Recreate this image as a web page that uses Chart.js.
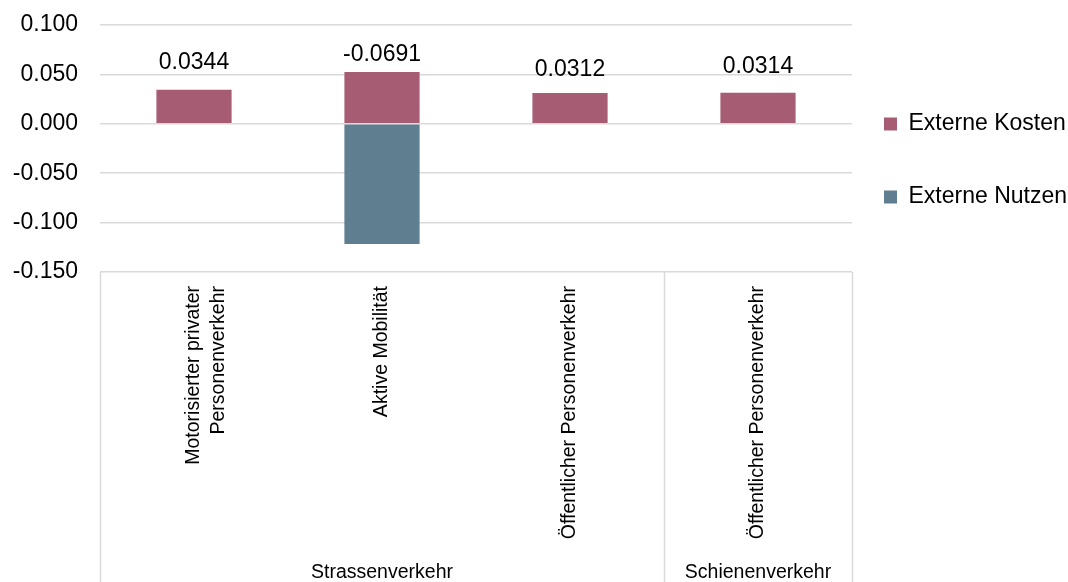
<!DOCTYPE html>
<html>
<head>
<meta charset="utf-8">
<script src="https://cdn.jsdelivr.net/npm/chart.js@4.4.1/dist/chart.umd.min.js"></script>
<style>
  html, body { margin: 0; padding: 0; background: #fff; }
</style>
</head>
<body>
<canvas id="chart" width="1068" height="582"></canvas>
<script>
// Data
const categories = [
    ['Motorisierter privater', 'Personenverkehr'],
    'Aktive Mobilität',
    'Öffentlicher Personenverkehr',
    'Öffentlicher Personenverkehr'
];
const groupLabels = ['Strassenverkehr', 'Schienenverkehr'];
const groupSizes = [3, 1];
const externeKosten = [0.0344, 0.0525, 0.0312, 0.0314];
const externeNutzen = [0, -0.1216, 0, 0];
const yTicks = [-0.150, -0.100, -0.050, 0.000, 0.050, 0.100];

// Styling
const labelLift = [27, 17, 23, 26];
const sans = "'Liberation Sans', Arial, sans-serif";
const gridColor = '#d9d9d9';
const legendGap = 32;

const groupPlugin = {
    id: 'groups',
    afterLayout(chart) {
        // move the legend so the swatches sit a fixed gap right of the plot
        const lg = chart.legend;
        const dx = chart.chartArea.right + legendGap - (lg.left + lg.options.labels.padding);
        lg.left += dx;
    },
    afterDatasetsDraw(chart) {
        const ctx = chart.ctx;
        const meta = chart.getDatasetMeta(0);
        ctx.save();
        ctx.font = `23px ${sans}`;
        ctx.fillStyle = '#000';
        ctx.textAlign = 'center';
        ctx.textBaseline = 'middle';
        meta.data.forEach((bar, i) => {
            const net = externeKosten[i] + externeNutzen[i];
            ctx.fillText(net.toFixed(4), bar.x, bar.y - labelLift[i]);
        });
        ctx.restore();
    },
    afterDraw(chart) {
        const ctx = chart.ctx;
        const x = chart.scales.x;
        const step = x.getPixelForValue(1) - x.getPixelForValue(0);
        const edge = i => x.getPixelForValue(i) - step / 2;
        const top = chart.chartArea.bottom;
        const bottom = chart.height;

        ctx.save();
        ctx.strokeStyle = gridColor;
        ctx.lineWidth = 1.5;
        ctx.font = `19.5px ${sans}`;
        ctx.fillStyle = '#000';
        ctx.textAlign = 'center';
        ctx.textBaseline = 'middle';

        let start = 0;
        const bounds = [0];
        groupLabels.forEach((label, g) => {
            const end = start + groupSizes[g];
            bounds.push(end);
            ctx.fillText(label, (edge(start) + edge(end)) / 2, bottom - 9);
            start = end;
        });
        bounds.forEach(b => {
            const px = Math.round(edge(b)) + 0.5;
            ctx.beginPath();
            ctx.moveTo(px, top);
            ctx.lineTo(px, bottom);
            ctx.stroke();
        });
        ctx.restore();
    }
};

new Chart(document.getElementById('chart'), {
    type: 'bar',
    data: {
        labels: categories,
        datasets: [
            { label: 'Externe Kosten', data: externeKosten, backgroundColor: '#a65d73', stack: 's' },
            { label: 'Externe Nutzen', data: externeNutzen, backgroundColor: '#5f7e8f', stack: 's' }
        ]
    },
    options: {
        responsive: false,
        animation: false,
        devicePixelRatio: 1,
        categoryPercentage: 1,
        barPercentage: 0.4,
        layout: { padding: { top: 25, right: 0, bottom: 0, left: 0 } },
        scales: {
            x: {
                stacked: true,
                grid: { display: false },
                border: { display: false },
                ticks: {
                    autoSkip: false,
                    maxRotation: 90,
                    minRotation: 90,
                    padding: 6,
                    color: '#000',
                    font: { family: sans, size: 19.5, lineHeight: 1.28 }
                },
                afterFit: s => { s.height = 310; }
            },
            y: {
                stacked: true,
                min: yTicks[0],
                max: yTicks[yTicks.length - 1],
                afterBuildTicks: s => { s.ticks = yTicks.map(v => ({ value: v })); },
                grid: { color: gridColor, lineWidth: 1.5, drawTicks: false },
                border: { display: false },
                ticks: {
                    padding: 22,
                    color: '#000',
                    font: { family: sans, size: 23 },
                    callback: v => Number(v).toFixed(3)
                },
                afterFit: s => {
                    s.width = 100;
                    s.paddingTop = 0;
                    s.paddingBottom = 0;
                }
            }
        },
        plugins: {
            tooltip: { enabled: false },
            legend: {
                position: 'right',
                fullSize: false,
                maxWidth: 216,
                title: { display: true, text: '', padding: 2, font: { size: 20, lineHeight: 1 } },
                labels: {
                    boxWidth: 13,
                    boxHeight: 13,
                    padding: 50,
                    color: '#000',
                    font: { family: sans, size: 23 }
                }
            }
        }
    },
    plugins: [groupPlugin]
});
</script>
</body>
</html>
